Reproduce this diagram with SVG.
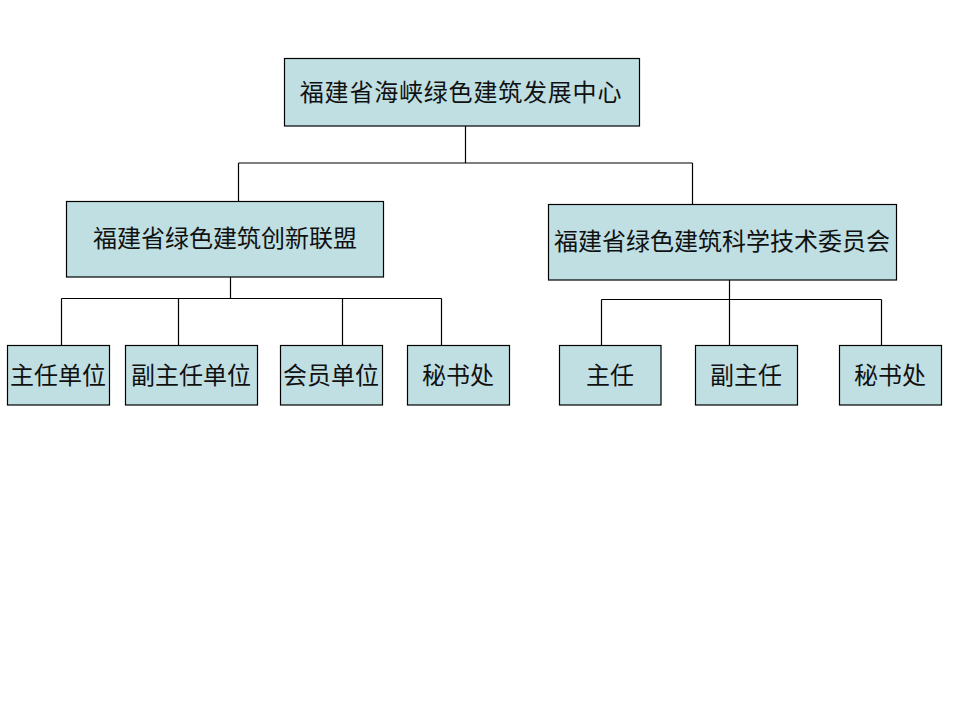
<svg xmlns="http://www.w3.org/2000/svg" width="960" height="720" viewBox="0 0 960 720">
<style>
.box{fill:#BFDFE3;stroke:#000;stroke-width:1.2}
.t{font-family:"Noto Sans CJK SC","Noto Sans",sans-serif;font-size:24px;fill:#111;text-anchor:middle}
.c{fill:none;stroke:#000;stroke-width:1.2}
</style>
<rect width="960" height="720" fill="#fff"/>
<g id="connectors">
<path class="c" d="M465.5 126V163M238.5 163H692.5M238.5 163V201.5M692.5 163V204.5"/>
<path class="c" d="M230.5 277V298.5M61.5 298.5H441.5M61.5 298.5V345.5M178.5 298.5V345.5M342.5 298.5V345.5M441.5 298.5V345.5"/>
<path class="c" d="M729.5 280V299.5M601.5 299.5H881.5M601.5 299.5V345.5M729.5 299.5V345.5M881.5 299.5V345.5"/>
</g>
<g id="n-root"><rect class="box" x="284.5" y="58.5" width="355" height="67.5"/><text class="t" x="461" y="101" letter-spacing="0.8">福建省海峡绿色建筑发展中心</text></g>
<g id="n-alliance"><rect class="box" x="66.5" y="201.5" width="317" height="75.5"/><text class="t" x="225" y="247">福建省绿色建筑创新联盟</text></g>
<g id="n-committee"><rect class="box" x="548.5" y="204.5" width="348" height="75.5"/><text class="t" x="722" y="250">福建省绿色建筑科学技术委员会</text></g>
<g id="n-a1"><rect class="box" x="7.5" y="345.5" width="102" height="59.5"/><text class="t" x="58" y="384">主任单位</text></g>
<g id="n-a2"><rect class="box" x="125.5" y="345.5" width="132" height="59.5"/><text class="t" x="191" y="384">副主任单位</text></g>
<g id="n-a3"><rect class="box" x="280.5" y="345.5" width="102" height="59.5"/><text class="t" x="331" y="384">会员单位</text></g>
<g id="n-a4"><rect class="box" x="407.5" y="345.5" width="102" height="59.5"/><text class="t" x="458" y="384">秘书处</text></g>
<g id="n-c1"><rect class="box" x="559.5" y="345.5" width="101.5" height="59.5"/><text class="t" x="610" y="384">主任</text></g>
<g id="n-c2"><rect class="box" x="695.5" y="345.5" width="102" height="59.5"/><text class="t" x="746" y="384">副主任</text></g>
<g id="n-c3"><rect class="box" x="839.5" y="345.5" width="102" height="59.5"/><text class="t" x="890" y="384">秘书处</text></g>
</svg>
